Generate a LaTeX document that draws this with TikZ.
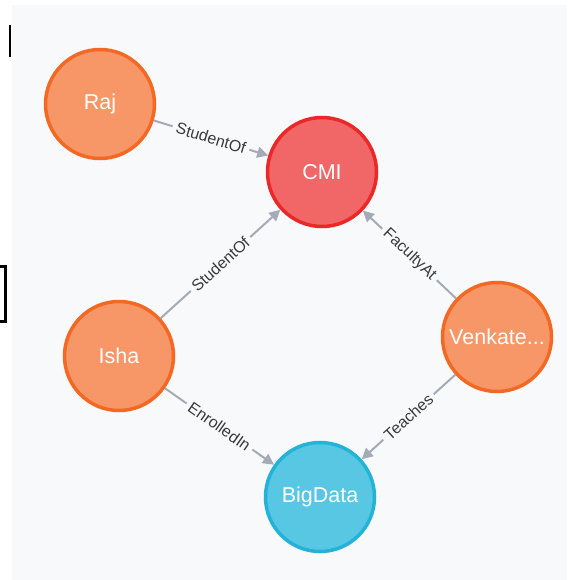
\documentclass[tikz,border=0pt]{standalone}
\usepackage{fontspec}
\setmainfont{Liberation Sans}
\usetikzlibrary{arrows.meta}
\definecolor{panelbg}{HTML}{F8F9FB}
\definecolor{personfill}{HTML}{F79767}
\definecolor{personedge}{HTML}{F36924}
\definecolor{cmifill}{HTML}{F16667}
\definecolor{cmiedge}{HTML}{EB2728}
\definecolor{coursefill}{HTML}{57C7E3}
\definecolor{courseedge}{HTML}{23B3D7}
\definecolor{linkgray}{HTML}{A5ABB6}
\definecolor{labelgray}{HTML}{3A3A3A}
\tikzstyle{person} = [circle, minimum size=109pt, draw=personedge, fill=personfill, line width=3.5pt, text=white, font=\fontsize{21.5}{25}\selectfont]
\tikzstyle{institute} = [person, draw=cmiedge, fill=cmifill]
\tikzstyle{course} = [person, draw=courseedge, fill=coursefill]
\tikzstyle{connector} = [draw=linkgray, line width=2pt, -{Triangle[length=11pt,width=11pt]}]
\tikzstyle{relation} = [midway, sloped, fill=panelbg, inner sep=4pt, text=labelgray, font=\fontsize{16}{19}\selectfont]

\begin{document}
\begin{tikzpicture}[x=1pt, y=-1pt]
    \useasboundingbox (0,0) rectangle (567,580);
    % Background
    \fill [panelbg] (12,5) rectangle (567,580);
    \draw [line width=1.2pt] (10,25) -- (10,57);
    \draw [line width=3pt] (0,266) -- (5,266) -- (5,321) -- (0,321);

    % Nodes
    \node [person] (raj) at (100,104) {Raj};
    \node [institute] (cmi) at (322,172) {CMI};
    \node [person] (isha) at (119,356) {Isha};
    \node [person] (venkat) at (497,337) {Venkate...};
    \node [course] (bigdata) at (320,497) {BigData};

    % Arrows
    \path [connector] (raj) -- node[relation] {StudentOf} (cmi);
    \path [connector] (isha) -- node[relation] {StudentOf} (cmi);
    \path [connector] (venkat) -- node[relation] {FacultyAt} (cmi);
    \path [connector] (isha) -- node[relation] {EnrolledIn} (bigdata);
    \path [connector] (venkat) -- node[relation] {Teaches} (bigdata);
\end{tikzpicture}
\end{document}
